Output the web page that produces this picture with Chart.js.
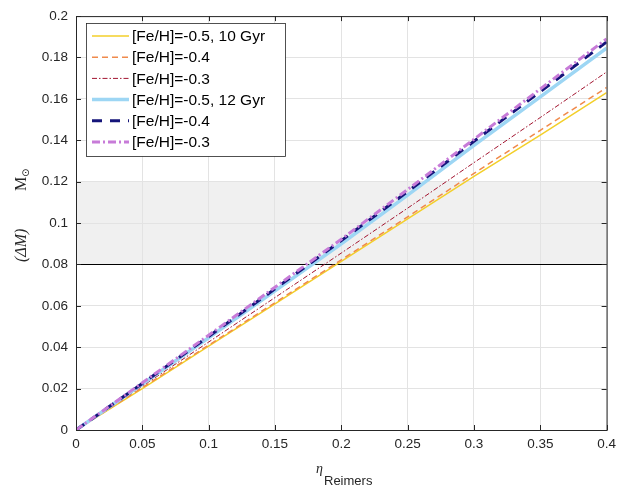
<!DOCTYPE html>
<html>
<head>
<meta charset="utf-8">
<script src="https://cdn.jsdelivr.net/npm/chart.js@4.4.1/dist/chart.umd.min.js"></script>
<style>
  html, body { margin: 0; padding: 0; background: #fff; }
  #wrap { width: 622px; height: 488px; }
</style>
</head>
<body>
<div id="wrap"><canvas id="mass-loss"></canvas></div>
<script>
// Integrated RGB mass loss vs Reimers eta, two ages x three metallicities
const eta = [0, 0.05, 0.1, 0.15, 0.2, 0.25, 0.3, 0.35, 0.4];

const fe05_10 = [0, 0.0200, 0.0405, 0.0610, 0.0815, 0.1020, 0.1225, 0.1425, 0.1630];
const fe04_10 = [0, 0.0205, 0.0410, 0.0615, 0.0822, 0.1030, 0.1240, 0.1448, 0.1655];
const fe03_10 = [0, 0.0212, 0.0425, 0.0640, 0.0855, 0.1072, 0.1292, 0.1510, 0.1730];
const fe05_12 = [0, 0.0222, 0.0446, 0.0672, 0.0900, 0.1135, 0.1375, 0.1610, 0.1845];
const fe04_12 = [0, 0.0225, 0.0452, 0.0682, 0.0915, 0.1152, 0.1395, 0.1635, 0.1875];
const fe03_12 = [0, 0.0228, 0.0458, 0.0690, 0.0922, 0.1162, 0.1405, 0.1648, 0.1890];

const seriesLabels = [
    '[Fe/H]=-0.5, 10 Gyr', '[Fe/H]=-0.4', '[Fe/H]=-0.3',
    '[Fe/H]=-0.5, 12 Gyr', '[Fe/H]=-0.4', '[Fe/H]=-0.3',
];

const band = [0.08, 0.12];      // observed range, shaded
const refLine = 0.08;
const xTicks = [0, 0.05, 0.1, 0.15, 0.2, 0.25, 0.3, 0.35, 0.4];
const yTicks = [0, 0.02, 0.04, 0.06, 0.08, 0.1, 0.12, 0.14, 0.16, 0.18, 0.2];

const AXIS = '#262626';
const FONT = '"Liberation Sans", Arial, Helvetica, sans-serif';
const SERIF = '"Liberation Serif", "DejaVu Serif", serif';

const styles = [
    { color: '#F3CF2A', width: 1.5, dash: [] },
    { color: '#F08A4B', width: 1.5, dash: [6, 4] },
    { color: '#A2142F', width: 1, dash: [5, 2, 1.5, 2] },
    { color: '#9DD6F4', width: 3.5, dash: [] },
    { color: '#15157A', width: 3, dash: [10, 8] },
    { color: '#C77BD8', width: 3, dash: [8, 3, 2, 3] },
];
const seriesData = [fe05_10, fe04_10, fe03_10, fe05_12, fe04_12, fe03_12];

const datasets = seriesData.map((vals, i) => ({
    label: seriesLabels[i],
    data: vals.map((v, k) => ({ x: eta[k], y: v })),
    borderColor: styles[i].color,
    borderWidth: styles[i].width,
    borderDash: styles[i].dash,
    pointRadius: 0,
    tension: 0,
    fill: false,
    order: 6 - i,
}));

const decor = {
    id: 'decor',
    beforeDraw(chart) {
        const { ctx, chartArea: a, scales: { y } } = chart;
        ctx.save();
        ctx.fillStyle = '#f0f0f0';
        const y1 = y.getPixelForValue(band[1]);
        const y0 = y.getPixelForValue(band[0]);
        ctx.fillRect(a.left, y1, a.right - a.left, y0 - y1);
        ctx.restore();
    },
    beforeDatasetsDraw(chart) {
        const { ctx, chartArea: a, scales: { y } } = chart;
        const py = Math.round(y.getPixelForValue(refLine)) + 0.5;
        ctx.save();
        ctx.strokeStyle = '#000';
        ctx.lineWidth = 1.2;
        ctx.beginPath();
        ctx.moveTo(a.left, py);
        ctx.lineTo(a.right, py);
        ctx.stroke();
        ctx.restore();
    },
    afterDraw(chart) {
        const { ctx, chartArea: a, scales: { x, y } } = chart;
        ctx.save();
        // box + inward ticks
        ctx.strokeStyle = AXIS;
        ctx.lineWidth = 1;
        ctx.strokeRect(a.left + 0.5, a.top + 0.5, a.right - a.left, a.bottom - a.top);
        ctx.beginPath();
        xTicks.forEach((t) => {
            const px = Math.round(x.getPixelForValue(t)) + 0.5;
            ctx.moveTo(px, a.bottom); ctx.lineTo(px, a.bottom - 5);
            ctx.moveTo(px, a.top); ctx.lineTo(px, a.top + 5);
        });
        yTicks.forEach((t) => {
            const py = Math.round(y.getPixelForValue(t)) + 0.5;
            ctx.moveTo(a.left, py); ctx.lineTo(a.left + 5, py);
            ctx.moveTo(a.right, py); ctx.lineTo(a.right - 5, py);
        });
        ctx.stroke();

        // legend
        const lx = 86, ly = 23, lw = 199, lh = 133;
        ctx.fillStyle = '#fff';
        ctx.fillRect(lx, ly, lw, lh);
        ctx.strokeStyle = AXIS;
        ctx.lineWidth = 0.8;
        ctx.strokeRect(lx + 0.5, ly + 0.5, lw, lh);
        ctx.font = '15.5px ' + FONT;
        ctx.textBaseline = 'middle';
        ctx.textAlign = 'left';
        chart.data.datasets.forEach((ds, i) => {
            const ry = 36 + i * 21.2;
            ctx.strokeStyle = ds.borderColor;
            ctx.lineWidth = ds.borderWidth;
            ctx.setLineDash(ds.borderDash);
            ctx.beginPath();
            ctx.moveTo(92, ry);
            ctx.lineTo(129, ry);
            ctx.stroke();
            ctx.setLineDash([]);
            ctx.fillStyle = '#000';
            ctx.fillText(ds.label, 132, ry + 1);
        });

        // x title: eta_Reimers
        ctx.fillStyle = AXIS;
        ctx.font = 'italic 14px ' + SERIF;
        ctx.fillText('η', 316, 469);
        ctx.font = '13px ' + FONT;
        ctx.fillText('Reimers', 324, 481);

        // y title: (ΔM) M_sun
        ctx.translate(22, 222);
        ctx.rotate(-Math.PI / 2);
        ctx.textAlign = 'left';
        ctx.font = 'italic 16px ' + SERIF;
        ctx.fillText('(ΔM)', -40, 0);
        ctx.font = '16px ' + SERIF;
        ctx.fillText('M', 31, 0);
        ctx.font = '10px "DejaVu Sans", sans-serif';
        ctx.fillText('⊙', 45, 4);
        ctx.restore();
    },
};

new Chart(document.getElementById('mass-loss').getContext('2d'), {
    type: 'line',
    data: { datasets },
    options: {
        responsive: true,
        maintainAspectRatio: false,
        animation: false,
        layout: { padding: { top: 14, right: 14, left: 0, bottom: 0 } },
        plugins: { legend: { display: false }, tooltip: { enabled: false } },
        scales: {
            x: {
                type: 'linear',
                min: 0,
                max: 0.4,
                afterBuildTicks: (s) => { s.ticks = xTicks.map((v) => ({ value: v })); },
                afterFit: (s) => { s.height = 58; },
                ticks: {
                    color: AXIS,
                    font: { family: FONT, size: 13.5 },
                    padding: 6,
                    maxRotation: 0,
                    callback: (v) => String(+v.toFixed(2)),
                },
                grid: { color: '#e3e3e3', drawTicks: false },
                border: { color: AXIS },
            },
            y: {
                min: 0,
                max: 0.2,
                afterBuildTicks: (s) => { s.ticks = yTicks.map((v) => ({ value: v })); },
                afterFit: (s) => { s.width = 76; },
                ticks: {
                    color: AXIS,
                    font: { family: FONT, size: 13.5 },
                    padding: 8,
                    callback: (v) => String(+v.toFixed(2)),
                },
                grid: { color: '#e3e3e3', drawTicks: false },
                border: { color: AXIS },
            },
        },
    },
    plugins: [decor],
});
</script>
</body>
</html>
